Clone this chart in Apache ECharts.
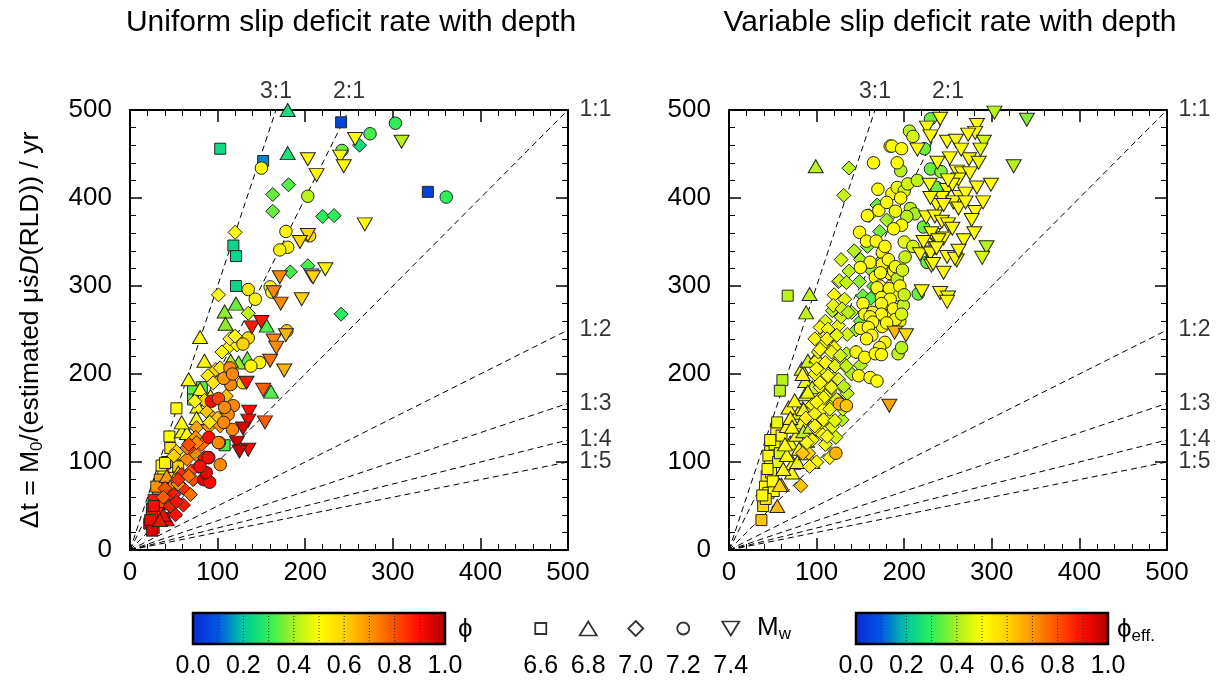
<!DOCTYPE html>
<html>
<head>
<meta charset="utf-8">
<title>Slip deficit rate with depth</title>
<script src="https://cdn.jsdelivr.net/npm/echarts@6/dist/echarts.min.js"></script>
<style>
  html, body { margin: 0; padding: 0; background: #fff; }
  #chart { width: 1222px; height: 683px; }
</style>
</head>
<body>
<div id="chart"></div>
<script>
// points are [x, y(Δt), phi], one list per Mw class
const leftMw66 = [
  [103, 456, 0.24], [152, 442, 0.14], [118, 346, 0.23], [121, 334, 0.23], [121, 300, 0.23], [241, 486, 0.06], [340, 407, 0.05],
  [82, 185, 0.33], [72, 181, 0.34], [72, 171, 0.34], [53, 161, 0.5], [45, 129, 0.5], [108, 119, 0.32],
  [27, 25, 0.9], [25, 47, 0.88], [32, 65, 0.72], [38, 88, 0.52], [51, 107, 0.5],
  [30, 35, 0.92], [28, 55, 0.85], [35, 76, 0.62], [42, 100, 0.52], [46, 116, 0.55], [22, 30, 0.95],
  [40, 52, 0.8], [33, 42, 0.85], [48, 82, 0.56], [36, 96, 0.5], [55, 95, 0.6], [25, 38, 0.9],
  [40, 99, 0.52], [34, 80, 0.68], [30, 72, 0.7], [27, 57, 0.88], [27, 50, 0.9], [23, 34, 0.92], [25, 22, 0.95]
];
const leftMw68 = [
  [180, 500, 0.25], [180, 451, 0.26], [121, 280, 0.35], [108, 271, 0.38], [109, 257, 0.38], [156, 255, 0.33],
  [80, 242, 0.5], [67, 194, 0.5], [80, 183, 0.5], [59, 135, 0.5], [77, 163, 0.5], [76, 150, 0.5],
  [134, 218, 0.35], [124, 213, 0.38], [161, 180, 0.33], [42, 35, 0.9], [47, 60, 0.85], [55, 88, 0.6],
  [62, 110, 0.55], [50, 45, 0.88], [38, 40, 0.9], [70, 125, 0.5], [58, 72, 0.8], [85, 215, 0.52],
  [92, 175, 0.5], [115, 215, 0.42], [65, 133, 0.5], [59, 145, 0.5], [42, 84, 0.7], [46, 72, 0.72], [34, 34, 0.9]
];
const leftMw70 = [
  [163, 404, 0.35], [181, 415, 0.33], [163, 385, 0.35], [120, 361, 0.5], [203, 323, 0.32], [183, 316, 0.32],
  [101, 290, 0.5], [135, 269, 0.43], [262, 460, 0.25], [220, 379, 0.3], [233, 380, 0.3], [241, 268, 0.29],
  [118, 242, 0.5], [112, 230, 0.52], [122, 233, 0.52], [89, 198, 0.55], [95, 190, 0.55], [88, 157, 0.62],
  [76, 139, 0.68], [75, 128, 0.7], [69, 114, 0.8], [76, 108, 0.72], [65, 103, 0.72], [59, 86, 0.85],
  [61, 70, 0.85], [61, 51, 0.88], [69, 63, 0.75], [50, 63, 0.88], [65, 116, 0.75],
  [85, 170, 0.6], [95, 150, 0.65], [82, 120, 0.75], [70, 90, 0.8], [55, 75, 0.7], [45, 55, 0.85],
  [52, 40, 0.9], [78, 95, 0.85], [100, 150, 0.62], [90, 140, 0.7], [85, 105, 0.88], [72, 80, 0.8],
  [40, 70, 0.8], [105, 225, 0.5], [98, 205, 0.58], [110, 175, 0.62],
  [114, 240, 0.5], [120, 243, 0.5], [103, 207, 0.55], [74, 169, 0.5], [91, 145, 0.55], [103, 141, 0.7],
  [76, 122, 0.72], [67, 120, 0.8], [53, 112, 0.6], [50, 107, 0.6], [55, 80, 0.85], [67, 84, 0.75],
  [46, 50, 0.88], [53, 55, 0.9], [38, 60, 0.78]
];
const leftMw72 = [
  [150, 434, 0.5], [203, 402, 0.42], [178, 362, 0.52], [180, 344, 0.52], [171, 341, 0.52], [135, 296, 0.55],
  [143, 285, 0.52], [160, 299, 0.5], [162, 293, 0.5], [303, 485, 0.3], [274, 473, 0.32], [242, 454, 0.35],
  [361, 401, 0.3], [205, 357, 0.58], [135, 241, 0.58], [129, 234, 0.6], [179, 249, 0.6], [148, 213, 0.52],
  [138, 209, 0.52], [114, 207, 0.72], [115, 188, 0.72], [107, 195, 0.7], [129, 190, 0.58], [93, 169, 0.9],
  [101, 172, 0.82], [110, 158, 0.72], [118, 164, 0.72], [112, 154, 0.72], [117, 137, 0.72], [107, 145, 0.72],
  [102, 122, 0.72], [90, 128, 0.9], [90, 105, 0.9], [103, 97, 0.72], [84, 80, 0.95], [91, 77, 0.9],
  [87, 88, 0.93], [89, 105, 0.9], [117, 200, 0.72], [101, 122, 0.72], [80, 95, 0.9], [108, 162, 0.72]
];
const leftMw74 = [
  [203, 444, 0.52], [213, 426, 0.52], [203, 358, 0.58], [194, 350, 0.6], [207, 312, 0.52], [171, 310, 0.72],
  [164, 293, 0.72], [172, 280, 0.72], [196, 285, 0.6], [139, 253, 0.88], [150, 259, 0.88], [257, 467, 0.5],
  [240, 447, 0.5], [244, 436, 0.5], [310, 464, 0.42], [268, 370, 0.5], [223, 319, 0.52], [209, 310, 0.6],
  [164, 238, 0.72], [167, 230, 0.72], [178, 244, 0.65], [160, 215, 0.75], [176, 204, 0.65], [133, 190, 0.88],
  [152, 182, 0.78], [136, 157, 0.9], [135, 147, 0.9], [129, 138, 0.95], [154, 145, 0.78], [122, 122, 0.97],
  [135, 114, 0.9], [125, 112, 0.97]
];

const rightMw66 = [
  [67, 289, 0.42], [61, 193, 0.42], [58, 181, 0.42], [54, 137, 0.5], [47, 112, 0.5], [45, 107, 0.5],
  [47, 95, 0.5], [43, 84, 0.5], [41, 72, 0.5], [45, 65, 0.5], [51, 67, 0.5], [39, 50, 0.58], [37, 34, 0.62],
  [52, 120, 0.48], [48, 88, 0.52], [56, 100, 0.47], [42, 58, 0.55], [50, 78, 0.5], [60, 130, 0.5],
  [38, 62, 0.5], [55, 145, 0.48], [47, 125, 0.5], [58, 110, 0.45], [44, 92, 0.5]
];
const rightMw68 = [
  [99, 436, 0.42], [92, 291, 0.43], [88, 270, 0.43], [73, 99, 0.5], [72, 88, 0.5], [66, 108, 0.5],
  [70, 122, 0.5], [66, 141, 0.5], [77, 131, 0.5], [83, 145, 0.5], [79, 156, 0.48], [89, 124, 0.43],
  [68, 162, 0.5], [83, 206, 0.47], [87, 192, 0.47], [87, 177, 0.45], [60, 74, 0.6], [55, 50, 0.64],
  [58, 74, 0.6], [75, 170, 0.5], [92, 160, 0.45], [70, 150, 0.52], [80, 115, 0.5], [62, 92, 0.5],
  [95, 185, 0.45], [78, 100, 0.48], [85, 135, 0.43], [90, 215, 0.45], [72, 140, 0.5], [64, 120, 0.5],
  [100, 220, 0.5], [84, 200, 0.5], [90, 180, 0.48], [85, 160, 0.5], [93, 140, 0.45], [88, 110, 0.5], [95, 100, 0.5]
];
const rightMw70 = [
  [137, 434, 0.42], [131, 403, 0.43], [169, 392, 0.35], [172, 362, 0.36], [137, 317, 0.42], [125, 305, 0.48],
  [149, 305, 0.38], [132, 285, 0.47], [153, 289, 0.35], [162, 286, 0.33], [126, 306, 0.45], [134, 304, 0.43],
  [104, 240, 0.5], [100, 215, 0.5], [107, 233, 0.48], [123, 213, 0.47], [134, 223, 0.42], [132, 210, 0.45],
  [104, 185, 0.5], [115, 181, 0.48], [104, 172, 0.5], [119, 166, 0.45], [107, 160, 0.5], [115, 148, 0.48],
  [100, 137, 0.5], [107, 131, 0.5], [129, 148, 0.42], [91, 110, 0.6], [84, 110, 0.62], [82, 73, 0.62],
  [110, 260, 0.45], [118, 272, 0.42], [125, 255, 0.48], [140, 270, 0.4], [145, 250, 0.38], [112, 245, 0.5],
  [98, 200, 0.5], [108, 205, 0.47], [120, 195, 0.45], [130, 185, 0.42], [140, 200, 0.4], [95, 165, 0.5],
  [112, 190, 0.52], [125, 170, 0.47], [135, 178, 0.43], [105, 145, 0.5], [118, 140, 0.47], [95, 125, 0.5],
  [110, 120, 0.48], [122, 128, 0.45], [100, 100, 0.5], [92, 95, 0.52], [115, 105, 0.5], [150, 330, 0.4],
  [158, 345, 0.37], [143, 340, 0.42], [128, 330, 0.45], [160, 320, 0.38], [155, 270, 0.35], [120, 290, 0.5],
  [135, 245, 0.45], [145, 225, 0.4], [150, 210, 0.42], [102, 225, 0.48], [88, 150, 0.52], [98, 155, 0.48],
  [130, 160, 0.45], [110, 175, 0.5], [120, 230, 0.5], [128, 265, 0.45], [150, 260, 0.36], [165, 300, 0.34],
  [175, 330, 0.38], [180, 375, 0.4], [160, 380, 0.42],
  [119, 278, 0.47], [129, 274, 0.45], [136, 270, 0.42], [104, 253, 0.5], [113, 251, 0.48], [98, 240, 0.5],
  [112, 240, 0.5], [123, 244, 0.47], [104, 228, 0.5], [117, 225, 0.48], [127, 221, 0.45], [110, 213, 0.5],
  [121, 209, 0.47], [134, 209, 0.43], [100, 206, 0.5], [113, 198, 0.5], [125, 194, 0.47], [104, 190, 0.5],
  [117, 185, 0.48], [131, 186, 0.42], [108, 173, 0.5], [123, 171, 0.47], [100, 168, 0.5], [115, 160, 0.48],
  [108, 148, 0.5], [121, 147, 0.47], [98, 141, 0.5], [112, 129, 0.5], [89, 122, 0.5]
];
const rightMw72 = [
  [184, 459, 0.5], [158, 380, 0.5], [171, 386, 0.5], [149, 361, 0.5], [157, 351, 0.5], [168, 351, 0.5],
  [175, 338, 0.5], [161, 327, 0.5], [150, 321, 0.5], [167, 310, 0.5], [230, 490, 0.35], [206, 476, 0.42],
  [186, 459, 0.5], [197, 456, 0.5], [223, 456, 0.35], [230, 433, 0.35], [242, 430, 0.37], [196, 431, 0.42],
  [186, 405, 0.5], [192, 412, 0.47], [200, 408, 0.45], [196, 400, 0.5], [204, 416, 0.45], [237, 412, 0.35],
  [207, 388, 0.42], [212, 382, 0.4], [203, 379, 0.42], [197, 369, 0.5], [188, 365, 0.5], [222, 367, 0.35],
  [201, 333, 0.44], [226, 327, 0.35], [216, 291, 0.35], [180, 320, 0.47], [185, 300, 0.5], [192, 290, 0.5],
  [178, 280, 0.5], [186, 270, 0.5], [195, 260, 0.47], [175, 254, 0.5], [172, 300, 0.5],
  [184, 314, 0.5], [188, 317, 0.5], [192, 308, 0.42], [169, 298, 0.5], [183, 297, 0.5], [153, 280, 0.5],
  [174, 287, 0.5], [184, 285, 0.5], [174, 280, 0.5], [188, 274, 0.5], [199, 278, 0.43], [155, 268, 0.5],
  [164, 270, 0.5], [174, 268, 0.5], [161, 265, 0.5], [164, 259, 0.5], [188, 259, 0.45], [150, 252, 0.5],
  [159, 253, 0.5], [163, 244, 0.5], [157, 240, 0.5], [178, 236, 0.5], [172, 230, 0.5], [145, 225, 0.5],
  [155, 219, 0.5], [167, 223, 0.5], [193, 223, 0.43], [197, 230, 0.42], [148, 198, 0.5], [161, 196, 0.5],
  [169, 192, 0.5], [126, 166, 0.65], [134, 164, 0.62], [122, 110, 0.65], [174, 222, 0.5],
  [200, 350, 0.47], [210, 345, 0.45], [178, 345, 0.5], [180, 395, 0.5], [190, 385, 0.48], [170, 410, 0.5],
  [165, 440, 0.5], [210, 470, 0.45], [215, 420, 0.42], [192, 440, 0.5],
  [175, 325, 0.5], [182, 330, 0.5], [190, 322, 0.48], [198, 318, 0.45], [173, 315, 0.5], [195, 300, 0.5],
  [200, 290, 0.44], [190, 262, 0.5], [197, 268, 0.45], [180, 258, 0.5]
];
const rightMw74 = [
  [303, 497, 0.42], [340, 489, 0.37], [241, 490, 0.5], [226, 480, 0.5], [283, 483, 0.5], [281, 474, 0.5],
  [273, 472, 0.5], [291, 464, 0.45], [287, 455, 0.47], [249, 464, 0.5], [259, 465, 0.5], [252, 445, 0.5],
  [274, 444, 0.5], [325, 436, 0.42], [260, 430, 0.5], [266, 428, 0.5], [275, 428, 0.5], [262, 421, 0.5],
  [283, 412, 0.5], [299, 415, 0.5], [229, 415, 0.5], [249, 409, 0.5], [243, 400, 0.5], [263, 401, 0.5],
  [256, 395, 0.5], [237, 392, 0.5], [245, 392, 0.5], [262, 388, 0.5], [281, 384, 0.5], [277, 375, 0.5],
  [225, 378, 0.5], [235, 379, 0.5], [243, 373, 0.5], [233, 358, 0.5], [245, 354, 0.5], [268, 352, 0.5],
  [294, 344, 0.42], [289, 332, 0.45], [235, 343, 0.5], [228, 338, 0.5], [218, 336, 0.5], [249, 333, 0.5],
  [260, 329, 0.5], [231, 323, 0.5], [220, 294, 0.5], [241, 292, 0.5], [250, 287, 0.48], [249, 282, 0.5],
  [189, 247, 0.65], [202, 244, 0.58], [183, 164, 0.68], [231, 360, 0.5], [239, 352, 0.5], [230, 337, 0.5],
  [237, 343, 0.5], [233, 325, 0.5], [258, 331, 0.5], [250, 370, 0.5], [255, 415, 0.5], [270, 405, 0.5],
  [238, 440, 0.5], [215, 455, 0.5],
  [230, 470, 0.5], [265, 455, 0.5], [285, 440, 0.48], [250, 420, 0.5], [270, 395, 0.5], [290, 395, 0.5],
  [230, 400, 0.5], [255, 365, 0.5], [222, 350, 0.5], [245, 315, 0.5], [262, 340, 0.5], [280, 360, 0.5]
];

const ratioNames = ['3:1', '2:1', '1:1', '1:2', '1:3', '1:4', '1:5'];
const ratioValues = [3, 2, 1, 1 / 2, 1 / 3, 1 / 4, 1 / 5];
const mwLabels = ['6.6', '6.8', '7.0', '7.2', '7.4'];
const phiColors = ['#0a28d2', '#0058e6', '#00c8a0', '#2cf05a', '#a8f01e', '#ffff00',
                   '#ffd200', '#ff9600', '#ff5000', '#ff0a00', '#b00000'];

const FONT = '"Liberation Sans", Arial, sans-serif';
const shapes = [
  { symbol: 'rect', size: [11, 11], rotate: 0 },
  { symbol: 'triangle', size: [15, 13], rotate: 0 },
  { symbol: 'diamond', size: [14, 14], rotate: 0 },
  { symbol: 'circle', size: [12.5, 12.5], rotate: 0 },
  { symbol: 'triangle', size: [15, 13], rotate: 180 }
];
const legendSizes = [[11, 11], [17, 14], [15, 15], [12, 12], [17, 14]];

function frameAxis(pos, gridIndex, showLabels) {
  return {
    type: 'value', gridIndex: gridIndex, position: pos, min: 0, max: 500, interval: 100,
    axisLine: { show: true, onZero: false, lineStyle: { color: '#000', width: 2 } },
    axisTick: { show: true, inside: true, length: 12, lineStyle: { color: '#000', width: 1.5 } },
    minorTick: { show: true, splitNumber: 5, length: 6, lineStyle: { color: '#000', width: 1 } },
    splitLine: { show: false },
    axisLabel: { show: showLabels, color: '#000', fontSize: 26, fontFamily: FONT,
                 margin: (pos === 'left') ? 18 : 10 }
  };
}

function scatterSeries(data, k, xi, yi) {
  const s = shapes[k];
  return {
    type: 'scatter', xAxisIndex: xi, yAxisIndex: yi, data: data, silent: true,
    symbol: s.symbol, symbolSize: s.size, symbolRotate: s.rotate,
    itemStyle: { borderColor: '#222', borderWidth: 1, opacity: 1 }, z: 3
  };
}

function ratioEnd(r) {
  return r >= 1 ? [500 / r, 500] : [500, 500 * r];
}

function ratioSeries(xi, yi) {
  const out = [];
  ratioValues.forEach(function (r) {
    out.push({
      type: 'line', xAxisIndex: xi, yAxisIndex: yi, silent: true, symbol: 'none',
      data: [[0, 0], ratioEnd(r)],
      lineStyle: { color: '#000', width: 1, type: [6, 4] }, z: 2
    });
  });
  // labels at the line ends
  out.push({
    type: 'scatter', xAxisIndex: xi, yAxisIndex: yi, silent: true, symbolSize: 1,
    itemStyle: { color: 'rgba(0,0,0,0)' }, z: 4, clip: false,
    data: ratioValues.map(function (r, i) {
      return {
        value: ratioEnd(r),
        label: {
          show: true, formatter: ratioNames[i], color: '#000', fontSize: 23, fontFamily: FONT,
          position: r > 1 ? 'top' : 'right', distance: r > 1 ? 6 : 11
        }
      };
    })
  });
  return out;
}

function colorbarSeries(xi, yi) {
  return {
    type: 'custom', xAxisIndex: xi, yAxisIndex: yi, silent: true, data: [[0, 1]],
    renderItem: function (params, api) {
      const p0 = api.coord([0, 1]);
      const p1 = api.coord([1, 0]);
      const w = p1[0] - p0[0], h = p1[1] - p0[1];
      const stops = phiColors.map(function (c, i) { return { offset: i / (phiColors.length - 1), color: c }; });
      const children = [{
        type: 'rect', shape: { x: p0[0], y: p0[1], width: w, height: h },
        style: { fill: new echarts.graphic.LinearGradient(0, 0, 1, 0, stops) }
      }];
      for (let k = 1; k < 10; k++) {
        const x = api.coord([k / 10, 0])[0];
        children.push({
          type: 'line', shape: { x1: x, y1: p0[1], x2: x, y2: p1[1] },
          style: { stroke: '#333', lineWidth: 1, lineDash: [1, 2] }
        });
      }
      children.push({
        type: 'rect', shape: { x: p0[0], y: p0[1], width: w, height: h },
        style: { fill: 'none', stroke: '#000', lineWidth: 2.5 }
      });
      return { type: 'group', children: children };
    }
  };
}

function colorbarX(gridIndex) {
  return {
    type: 'value', gridIndex: gridIndex, min: 0, max: 1, interval: 0.2,
    axisLine: { show: false }, axisTick: { show: false }, splitLine: { show: false },
    axisLabel: { color: '#000', fontSize: 25, fontFamily: FONT, margin: 10,
                 formatter: function (v) { return v.toFixed(1); } }
  };
}
function hiddenY(gridIndex) {
  return { type: 'value', gridIndex: gridIndex, min: 0, max: 1, show: false };
}

const chart = echarts.init(document.getElementById('chart'), null, { renderer: 'canvas' });

const series = [
  scatterSeries(leftMw66, 0, 0, 0), scatterSeries(leftMw68, 1, 0, 0), scatterSeries(leftMw70, 2, 0, 0),
  scatterSeries(leftMw72, 3, 0, 0), scatterSeries(leftMw74, 4, 0, 0),
  scatterSeries(rightMw66, 0, 2, 2), scatterSeries(rightMw68, 1, 2, 2), scatterSeries(rightMw70, 2, 2, 2),
  scatterSeries(rightMw72, 3, 2, 2), scatterSeries(rightMw74, 4, 2, 2)
].concat(ratioSeries(0, 0), ratioSeries(2, 2), [
  colorbarSeries(4, 4),
  colorbarSeries(6, 6),
  {
    type: 'scatter', xAxisIndex: 5, yAxisIndex: 5, silent: true,
    itemStyle: { color: '#fff', borderColor: '#000', borderWidth: 1.8 },
    data: mwLabels.map(function (m, i) {
      const s = shapes[i];
      return { value: [m, 0.5], symbol: s.symbol, symbolSize: legendSizes[i], symbolRotate: s.rotate };
    })
  }
]);

const yName = '{n|Δt = M}{sub|0}{n|/(estimated μṡ}{it|D}{n|(RLD)) / yr}';
const subRich = { fontSize: 17, fontFamily: FONT, color: '#000', lineHeight: 30, verticalAlign: 'bottom', padding: [14, 0, 0, 0] };

const option = {
  animation: false,
  backgroundColor: '#fff',
  textStyle: { fontFamily: FONT },
  grid: [
    { left: 130, top: 110, width: 438, height: 440 },
    { left: 729, top: 110, width: 438, height: 440 },
    { left: 193, top: 613, width: 252, height: 31 },
    { left: 517, top: 613, width: 237.5, height: 31 },
    { left: 856, top: 613, width: 252, height: 31 }
  ],
  xAxis: [
    frameAxis('bottom', 0, true),
    frameAxis('top', 0, false),
    frameAxis('bottom', 1, true),
    frameAxis('top', 1, false),
    colorbarX(2),
    {
      type: 'category', gridIndex: 3, data: mwLabels,
      axisLine: { show: false }, axisTick: { show: false },
      axisLabel: { color: '#000', fontSize: 25, fontFamily: FONT, margin: 10 }
    },
    colorbarX(4)
  ],
  yAxis: [
    Object.assign(frameAxis('left', 0, true), {
      name: yName, nameLocation: 'middle', nameGap: 84, nameRotate: 90,
      nameTextStyle: {
        color: '#000', fontFamily: FONT,
        rich: {
          n: { fontSize: 26.5, fontFamily: FONT, color: '#000', lineHeight: 30 },
          it: { fontSize: 26.5, fontFamily: FONT, color: '#000', fontStyle: 'italic', lineHeight: 30 },
          sub: subRich
        }
      }
    }),
    frameAxis('right', 0, false),
    frameAxis('left', 1, true),
    frameAxis('right', 1, false),
    hiddenY(2),
    hiddenY(3),
    hiddenY(4)
  ],
  visualMap: {
    type: 'continuous', show: false, min: 0, max: 1, dimension: 2,
    seriesIndex: [0, 1, 2, 3, 4, 5, 6, 7, 8, 9],
    inRange: { color: phiColors }
  },
  graphic: [
    { type: 'text', x: 351, y: 23, style: { text: 'Uniform slip deficit rate with depth', font: '30px ' + FONT, fill: '#000', align: 'center', verticalAlign: 'middle' } },
    { type: 'text', x: 950, y: 23, style: { text: 'Variable slip deficit rate with depth', font: '30px ' + FONT, fill: '#000', align: 'center', verticalAlign: 'middle' } },
    { type: 'text', x: 458, y: 630, style: { text: 'ϕ', font: '26px ' + FONT, fill: '#000', verticalAlign: 'middle' } },
    {
      type: 'text', x: 757, y: 628,
      style: {
        text: '{a|M}{b|w}', fill: '#000', verticalAlign: 'middle',
        rich: { a: { fontSize: 26, fontFamily: FONT, lineHeight: 30 }, b: subRich }
      }
    },
    {
      type: 'text', x: 1117, y: 630,
      style: {
        text: '{a|ϕ}{b|eff.}', fill: '#000', verticalAlign: 'middle',
        rich: { a: { fontSize: 26, fontFamily: FONT, lineHeight: 30 }, b: subRich }
      }
    }
  ],
  series: series
};

chart.setOption(option);
</script>
</body>
</html>
